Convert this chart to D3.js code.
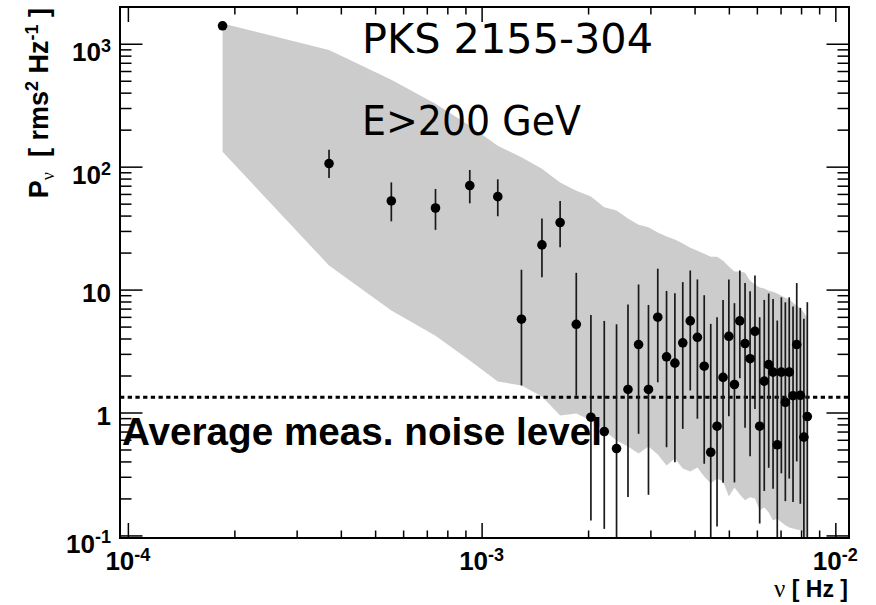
<!DOCTYPE html>
<html>
<head>
<meta charset="utf-8">
<script src="https://cdn.jsdelivr.net/npm/d3@7/dist/d3.min.js"></script>
<style>
  body { margin: 0; background: #fff; }
  svg { display: block; }
</style>
</head>
<body>
<svg id="chart" width="876" height="605"></svg>
<script>
// Fourier frequencies of the light curve (Hz)
const freqHz = [
  1.852e-4, 3.704e-4, 5.556e-4, 7.407e-4, 9.259e-4, 1.111e-3, 1.296e-3, 1.481e-3, 1.667e-3,
  1.852e-3, 2.037e-3, 2.222e-3, 2.407e-3, 2.593e-3, 2.778e-3, 2.963e-3, 3.148e-3, 3.333e-3,
  3.519e-3, 3.704e-3, 3.889e-3, 4.074e-3, 4.259e-3, 4.444e-3, 4.630e-3, 4.815e-3, 5.000e-3,
  5.185e-3, 5.370e-3, 5.556e-3, 5.741e-3, 5.926e-3, 6.111e-3, 6.296e-3, 6.481e-3, 6.667e-3,
  6.852e-3, 7.037e-3, 7.222e-3, 7.407e-3, 7.593e-3, 7.778e-3, 7.963e-3, 8.148e-3, 8.333e-3
];
// Measured power density (rms^2 Hz^-1)
const power = [
  1400, 106, 52.6, 46.1, 70.2, 57, 5.74, 23.1, 35.1,
  5.22, 0.916, 0.70, 0.509, 1.54, 3.57, 1.54, 5.96, 2.84,
  2.52, 3.69, 5.56, 4.09, 2.38, 0.475, 0.774, 1.93, 4.17,
  1.69, 5.56, 3.64, 2.74, 4.58, 0.774, 1.80, 2.45, 2.13,
  0.546, 2.13, 1.21, 2.13, 1.37, 3.57, 1.38, 0.63, 0.927
];
// Lower and upper ends of the error bars
const powerLow = [
  1400, 81, 35.9, 30.6, 50.3, 39.5, 1.66, 12.6, 22.1,
  1.37, 0.132, 0.113, 0.08, 0.205, 0.671, 0.214, 1.76, 0.522,
  0.394, 0.736, 1.51, 0.89, 0.383, 0.08, 0.118, 0.268, 0.933,
  0.27, 1.90, 0.75, 0.44, 1.07, 0.125, 0.23, 0.355, 0.24,
  0.08, 0.32, 0.19, 0.29, 0.187, 0.40, 0.181, 0.08, 0.08
];
const powerHigh = [
  1400, 137, 74.5, 65.9, 94, 78.9, 14.5, 37.8, 52.6,
  13.7, 6.22, 5.56, 5.22, 7.55, 11.0, 7.5, 14.8, 9.75,
  9.33, 11.5, 14.3, 12.1, 9.0, 5.26, 5.96, 8.24, 12.1,
  7.75, 14.3, 11.3, 9.68, 13.0, 5.96, 8.24, 9.3, 8.4,
  5.6, 8.65, 7.88, 8.65, 7.28, 11.3, 7.1, 5.78, 7.9
];
// Simulated power spectrum envelope (upper and lower bounds)
const bandUpper = [
  1460, 889, 509, 325, 215, 148, 119, 96.3, 74.5,
  63.8, 57.1, 46.7, 43.9, 37.8, 33.7, 32.1, 29.1, 27.0,
  25.5, 23.7, 21.9, 20.7, 19.6, 18.5, 18.5, 17.2, 15.4,
  14.0, 14.0, 13.7, 11.8, 11.0, 10.4, 10.2, 9.8, 9.6,
  9.3, 8.9, 8.6, 8.3, 7.8, 7.4, 7.0, 6.5, 5.9
];
const bandLower = [
  132, 15.7, 6.75, 4.22, 2.65, 1.79, 1.66, 1.35, 0.946,
  0.982, 0.861, 0.714, 0.592, 0.529, 0.464, 0.529, 0.456, 0.371,
  0.423, 0.351, 0.331, 0.357, 0.302, 0.265, 0.291, 0.275, 0.207,
  0.246, 0.215, 0.193, 0.204, 0.200, 0.160, 0.169, 0.154, 0.132,
  0.137, 0.128, 0.121, 0.116, 0.114, 0.112, 0.110, 0.104, 0.090
];
// Average measurement noise level
const noiseLevel = 1.33;

// Axis tick labels
const xTickValues = [1e-4, 1e-3, 1e-2];
const xTickBase = ["10", "10", "10"];
const xTickExp = ["-4", "-3", "-2"];
const yTickValues = [0.1, 1, 10, 100, 1000];
const yTickBase = ["10", "1", "10", "10", "10"];
const yTickExp = ["-1", "", "", "2", "3"];

const svg = d3.select("#chart");
const frame = { left: 120, right: 849, top: 7, bottom: 538 };

const x = d3.scaleLog().domain([9.5e-5, 1.093e-2]).range([frame.left, frame.right]);
const y = d3.scaleLog().domain([0.0953, 1990]).range([frame.bottom, frame.top]);

svg.append("clipPath").attr("id", "plot-clip")
  .append("rect")
  .attr("x", frame.left).attr("y", frame.top)
  .attr("width", frame.right - frame.left).attr("height", frame.bottom - frame.top);

const plot = svg.append("g").attr("clip-path", "url(#plot-clip)");

// Grey envelope
const band = d3.area()
  .x((d, i) => x(freqHz[i]))
  .y0((d, i) => y(bandLower[i]))
  .y1((d, i) => y(bandUpper[i]));
plot.append("path").datum(freqHz).attr("d", band).attr("fill", "#cccccc");

// Noise level label
plot.append("text")
  .attr("x", 122).attr("y", 445)
  .attr("font-family", "'Liberation Sans', Arial, sans-serif")
  .attr("font-weight", "bold").attr("font-size", 39)
  .attr("textLength", 480).attr("lengthAdjust", "spacingAndGlyphs")
  .text("Average meas. noise level");

// Noise level line
plot.append("line")
  .attr("x1", frame.left).attr("x2", frame.right)
  .attr("y1", y(noiseLevel)).attr("y2", y(noiseLevel))
  .attr("stroke", "#000").attr("stroke-width", 3)
  .attr("stroke-dasharray", "4.3,3.4");

// Error bars
plot.selectAll("line.err").data(freqHz).enter().append("line")
  .attr("class", "err")
  .attr("x1", d => x(d)).attr("x2", d => x(d))
  .attr("y1", (d, i) => y(powerLow[i])).attr("y2", (d, i) => y(powerHigh[i]))
  .attr("stroke", "#1a1a1a").attr("stroke-width", 1.7);

// Data points
plot.selectAll("circle.pt").data(freqHz).enter().append("circle")
  .attr("class", "pt")
  .attr("cx", d => x(d)).attr("cy", (d, i) => y(power[i]))
  .attr("r", 4.8).attr("fill", "#000");

// Source and energy labels
const comic = "'DejaVu Sans', 'Noto Sans', sans-serif";
svg.append("text").attr("x", 362).attr("y", 53)
  .attr("font-family", comic).attr("font-size", 41)
  .attr("textLength", 291).attr("lengthAdjust", "spacingAndGlyphs")
  .text("PKS 2155-304");
svg.append("text").attr("x", 362).attr("y", 135)
  .attr("font-family", comic).attr("font-size", 41)
  .attr("textLength", 219).attr("lengthAdjust", "spacingAndGlyphs")
  .text("E>200 GeV");

// Ticks
function minorTicks(lo, hi) {
  const out = [];
  for (let e = Math.floor(Math.log10(lo)); e <= Math.ceil(Math.log10(hi)); e++) {
    for (let m = 2; m <= 9; m++) {
      const v = m * Math.pow(10, e);
      if (v > lo && v < hi) out.push(v);
    }
  }
  return out;
}
const xMinor = minorTicks(x.domain()[0], x.domain()[1]);
const yMinor = minorTicks(y.domain()[0], y.domain()[1]);

function styleAxis(g) {
  g.select(".domain").remove();
  g.selectAll(".tick line").attr("stroke", "#000").attr("stroke-width", 1.5);
  g.selectAll(".tick text").remove();
}

svg.append("g").attr("transform", `translate(0,${frame.bottom})`)
  .call(d3.axisBottom(x).tickValues(xTickValues).tickSize(-15)).call(styleAxis);
svg.append("g").attr("transform", `translate(0,${frame.bottom})`)
  .call(d3.axisBottom(x).tickValues(xMinor).tickSize(-7.5)).call(styleAxis);
svg.append("g").attr("transform", `translate(0,${frame.top})`)
  .call(d3.axisTop(x).tickValues(xTickValues).tickSize(-15)).call(styleAxis);
svg.append("g").attr("transform", `translate(0,${frame.top})`)
  .call(d3.axisTop(x).tickValues(xMinor).tickSize(-7.5)).call(styleAxis);

svg.append("g").attr("transform", `translate(${frame.left},0)`)
  .call(d3.axisLeft(y).tickValues(yTickValues).tickSize(-22.5)).call(styleAxis);
svg.append("g").attr("transform", `translate(${frame.left},0)`)
  .call(d3.axisLeft(y).tickValues(yMinor).tickSize(-11.5)).call(styleAxis);
svg.append("g").attr("transform", `translate(${frame.right},0)`)
  .call(d3.axisRight(y).tickValues(yTickValues).tickSize(-22.5)).call(styleAxis);
svg.append("g").attr("transform", `translate(${frame.right},0)`)
  .call(d3.axisRight(y).tickValues(yMinor).tickSize(-11.5)).call(styleAxis);

// Frame
svg.append("rect")
  .attr("x", frame.left).attr("y", frame.top)
  .attr("width", frame.right - frame.left).attr("height", frame.bottom - frame.top)
  .attr("fill", "none").attr("stroke", "#000").attr("stroke-width", 2);

// Tick labels
const labelFont = "'Liberation Sans', Arial, Helvetica, sans-serif";
xTickValues.forEach((v, i) => {
  const t = svg.append("text")
    .attr("x", x(v)).attr("y", 570)
    .attr("text-anchor", "middle")
    .attr("font-family", labelFont).attr("font-weight", "bold").attr("font-size", 26);
  t.append("tspan").text(xTickBase[i]);
  t.append("tspan").attr("dy", -9.5).attr("font-size", 18).text(xTickExp[i]);
});
yTickValues.forEach((v, i) => {
  const hasExp = yTickExp[i] !== "";
  const t = svg.append("text")
    .attr("x", 111).attr("y", y(v) + (hasExp ? 17.5 : 12))
    .attr("text-anchor", "end")
    .attr("font-family", labelFont).attr("font-weight", "bold").attr("font-size", 26);
  t.append("tspan").text(yTickBase[i]);
  if (hasExp) t.append("tspan").attr("dy", -9.5).attr("font-size", 18).text(yTickExp[i]);
});

// Axis titles
const xt = svg.append("text")
  .attr("x", 848).attr("y", 597)
  .attr("text-anchor", "end")
  .attr("font-family", labelFont).attr("font-weight", "bold").attr("font-size", 23);
xt.append("tspan").attr("font-family", "'Liberation Serif', 'DejaVu Serif', serif")
  .attr("font-weight", "normal").attr("font-size", 25).text("\u03bd");
xt.append("tspan").text(" [ Hz ]");

const yt = svg.append("text")
  .attr("transform", "translate(48,8) rotate(-90)")
  .attr("text-anchor", "end")
  .attr("font-family", labelFont).attr("font-weight", "bold").attr("font-size", 27);
yt.append("tspan").text("P");
yt.append("tspan").attr("dy", 6).attr("font-size", 18)
  .attr("font-family", "'Liberation Serif', 'DejaVu Serif', serif").attr("font-weight", "normal")
  .text("\u03bd");
yt.append("tspan").attr("dy", -6).text("\u00a0\u00a0[ rms");
yt.append("tspan").attr("dy", -10).attr("font-size", 18).text("2");
yt.append("tspan").attr("dy", 10).text(" Hz");
yt.append("tspan").attr("dy", -10).attr("font-size", 18).text("-1");
yt.append("tspan").attr("dy", 10).text(" ]");
</script>
</body>
</html>
